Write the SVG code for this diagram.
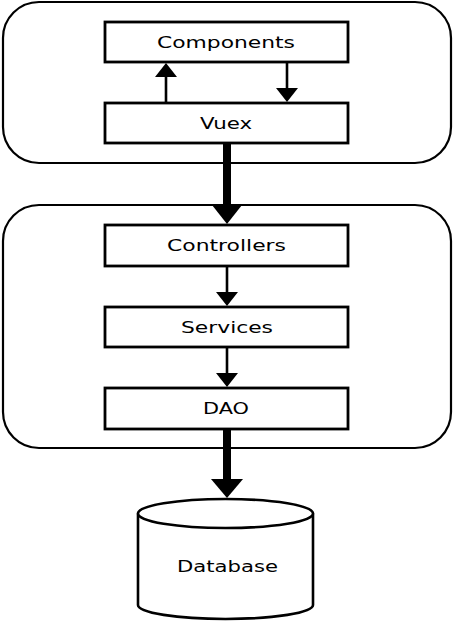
<svg xmlns="http://www.w3.org/2000/svg" width="454" height="637" viewBox="0 0 454 637">
<style>
.cont{fill:none;stroke:#000;stroke-width:2.2}
.box{fill:#fff;stroke:#000;stroke-width:2.8}
.lbl{font-family:"DejaVu Sans",sans-serif;font-size:15.5px;fill:#000;text-anchor:middle}
.thin{stroke:#000;stroke-width:2.6;fill:none}
.thick{stroke:#000;stroke-width:8;fill:none}
.head{fill:#000;stroke:none}
</style>
<rect width="454" height="637" fill="#fff"/>
<g id="frontend"><rect class="cont" x="3" y="2" width="448" height="161" rx="36" ry="36"/></g>
<g id="backend"><rect class="cont" x="3" y="205" width="448" height="243" rx="36" ry="36"/></g>
<g id="connectors">
<line class="thin" x1="166" y1="103" x2="166" y2="74"/>
<polygon class="head" points="166,63 155,77 177,77"/>
<line class="thin" x1="287" y1="62" x2="287" y2="90"/>
<polygon class="head" points="287,102 276,88 298,88"/>
<line class="thick" x1="227" y1="143" x2="227" y2="208"/>
<polygon class="head" points="227,224 212,205 242,205"/>
<line class="thin" x1="227" y1="266" x2="227" y2="294"/>
<polygon class="head" points="227,306 216,292 238,292"/>
<line class="thin" x1="227" y1="347" x2="227" y2="375"/>
<polygon class="head" points="227,387 216,373 238,373"/>
<line class="thick" x1="227" y1="429" x2="227" y2="482"/>
<polygon class="head" points="227,498 211,479 243,479"/>
</g>
<g id="components"><rect class="box" x="105" y="22" width="243" height="40"/><text class="lbl" x="226" y="47.5" textLength="138" lengthAdjust="spacingAndGlyphs">Components</text></g>
<g id="vuex"><rect class="box" x="105" y="103" width="243" height="40"/><text class="lbl" x="226" y="128.5" textLength="52" lengthAdjust="spacingAndGlyphs">Vuex</text></g>
<g id="controllers"><rect class="box" x="105" y="225" width="243" height="41"/><text class="lbl" x="226.5" y="251" textLength="119" lengthAdjust="spacingAndGlyphs">Controllers</text></g>
<g id="services"><rect class="box" x="105" y="307" width="243" height="40"/><text class="lbl" x="227" y="332.5" textLength="92" lengthAdjust="spacingAndGlyphs">Services</text></g>
<g id="dao"><rect class="box" x="105" y="388" width="243" height="41"/><text class="lbl" x="226" y="414" textLength="46" lengthAdjust="spacingAndGlyphs">DAO</text></g>
<g id="database">
<path d="M138,513.5 L138,605 A87.5,14 0 0 0 313,605 L313,513.5" fill="#fff" stroke="#000" stroke-width="2.6"/>
<ellipse cx="225.5" cy="513.5" rx="87.5" ry="14.5" fill="#fff" stroke="#000" stroke-width="2.6"/>
<text class="lbl" x="227.5" y="572" textLength="101" lengthAdjust="spacingAndGlyphs">Database</text>
</g>
</svg>
